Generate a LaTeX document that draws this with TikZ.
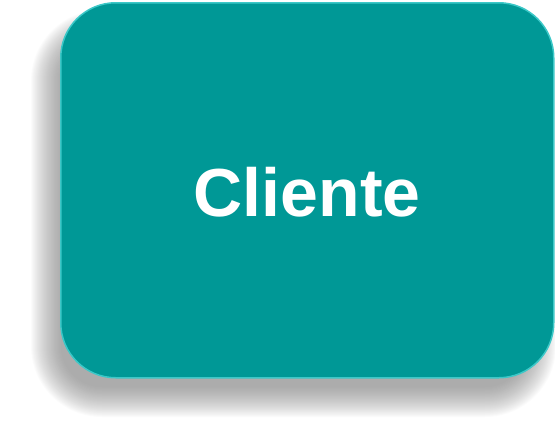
\documentclass[tikz,border=0pt]{standalone}
\usepackage{fontspec}
\setmainfont{Liberation Sans}
\definecolor{boxteal}{RGB}{0,152,150}
\definecolor{edgeteal}{RGB}{60,200,200}
\definecolor{shadowgray}{RGB}{110,110,110}
\begin{document}
\begin{tikzpicture}[x=1pt,y=-1pt,
  mainbox/.style={fill=boxteal, draw=edgeteal, line width=1.5pt, rounded corners=55pt},
  label/.style={text=white, font=\bfseries\fontsize{68}{72}\selectfont}]
\useasboundingbox (0,0) rectangle (555,431);
% blurred shadow
\foreach \i in {-14,...,16}{
  \pgfmathsetmacro{\r}{max(10,55+\i)}
  \fill[shadowgray, fill opacity=0.026, rounded corners=\r pt]
    ({47-\i},{26-\i}) rectangle ({540+\i},{401+\i});
}
\node[mainbox, minimum width=493pt, minimum height=375pt, inner sep=0pt, anchor=north west] (box) at (60,2) {};
\node[label] (t) at ([yshift=-2pt]box.center) {Cliente};
\end{tikzpicture}
\end{document}
